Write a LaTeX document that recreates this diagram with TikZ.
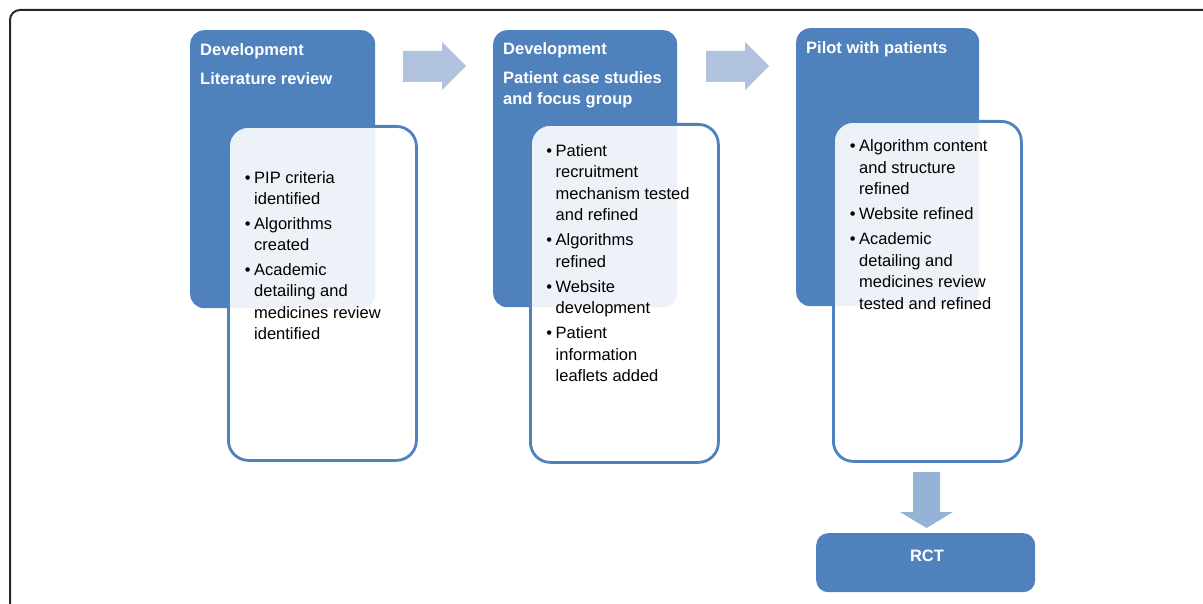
\documentclass[tikz,border=0pt]{standalone}
\usepackage{fontspec}
\setmainfont{Liberation Sans}
\definecolor{mblue}{HTML}{4F81BD}
\definecolor{harrow}{HTML}{B0C2DD}
\definecolor{varrow}{HTML}{95B3D7}
\newcommand{\blist}[1]{\vtop{\hsize=200pt\parindent=0pt\parskip=0pt\baselineskip=21.5pt\raggedright #1}}
\newcommand{\hlist}[1]{\vtop{\hsize=200pt\parindent=0pt\parskip=0pt\baselineskip=21pt\raggedright #1}}
\newcommand{\bul}{\leavevmode\llap{\textbullet\hspace{3.5pt}}}
\begin{document}
\begin{tikzpicture}[x=1pt,y=-1pt,
  bluebox/.style={fill=mblue,draw=none,rounded corners=14pt,anchor=north west,inner sep=0pt},
  whitebox/.style={fill=white,fill opacity=0.9,draw=mblue,draw opacity=1,line width=2.8pt,rounded corners=20pt,anchor=north west,inner sep=0pt},
  headtxt/.style={anchor=base west,inner sep=0pt,text=white,font=\fontsize{16.5pt}{21pt}\selectfont\bfseries},
  bodytxt/.style={anchor=base west,inner sep=0pt,text=black,font=\fontsize{16.5pt}{21.5pt}\selectfont},
  harr/.style={fill=harrow,draw=none},
  varr/.style={fill=varrow,draw=none}]
\useasboundingbox (0,0) rectangle (1203,604);
% outer frame
\draw[line width=2pt,black!85,rounded corners=10pt] (10,620) -- (10,10) -- (1230,10);
% stage 1
\node[bluebox,minimum width=185pt,minimum height=278pt] (b1) at (190,30) {};
\node[whitebox,minimum width=188pt,minimum height=334pt] (w1) at (227,125) {};
\node[headtxt] (h1) at (200,56) {\hlist{Development\\[8pt]Literature review}};
\node[bodytxt] (t1) at (254,183.5) {\blist{\bul PIP criteria\\identified\\[3pt]\bul Algorithms\\created\\[3pt]\bul Academic\\detailing and\\medicines review\\identified}};
% stage 2
\node[bluebox,minimum width=184pt,minimum height=277pt] (b2) at (493,30) {};
\node[whitebox,minimum width=188pt,minimum height=338pt] (w2) at (529,123) {};
\node[headtxt] (h2) at (503,55) {\hlist{Development\\[7.5pt]Patient case studies\\and focus group}};
\node[bodytxt] (t2) at (555.5,156.5) {\blist{\bul Patient\\recruitment\\mechanism tested\\and refined\\[3.5pt]\bul Algorithms\\refined\\[3.5pt]\bul Website\\development\\[3.5pt]\bul Patient\\information\\leaflets added}};
% stage 3
\node[bluebox,minimum width=183pt,minimum height=278pt] (b3) at (796,28) {};
\node[whitebox,minimum width=188pt,minimum height=340pt] (w3) at (832,120) {};
\node[headtxt] (h3) at (806,53.3) {Pilot with patients};
\node[bodytxt] (t3) at (859,151.7) {\blist{\bul Algorithm content\\and structure\\refined\\[3.5pt]\bul Website refined\\[3.5pt]\bul Academic\\detailing and\\medicines review\\tested and refined}};
% RCT
\node[bluebox,rounded corners=12pt,minimum width=219pt,minimum height=59pt] (rct) at (816,533) {};
\node[headtxt,anchor=base] (rcttxt) at (927,561.7) {RCT};
% arrows
\coordinate (a1) at (403,67);
\coordinate (a2) at (706,67);
\foreach \c in {a1,a2}{
  \fill[harr] (\c) ++(0,-16) -- ++(39,0) -- ++(0,-9) -- ++(24,24) -- ++(-24,24) -- ++(0,-8) -- ++(-39,0) -- cycle;
}
\coordinate (a3) at (926.5,472);
\fill[varr] (a3) ++(-13.5,0) -- ++(27,0) -- ++(0,40) -- ++(13,0) -- ++(-26.5,16) -- ++(-26.5,-16) -- ++(13,0) -- cycle;
\end{tikzpicture}
\end{document}
